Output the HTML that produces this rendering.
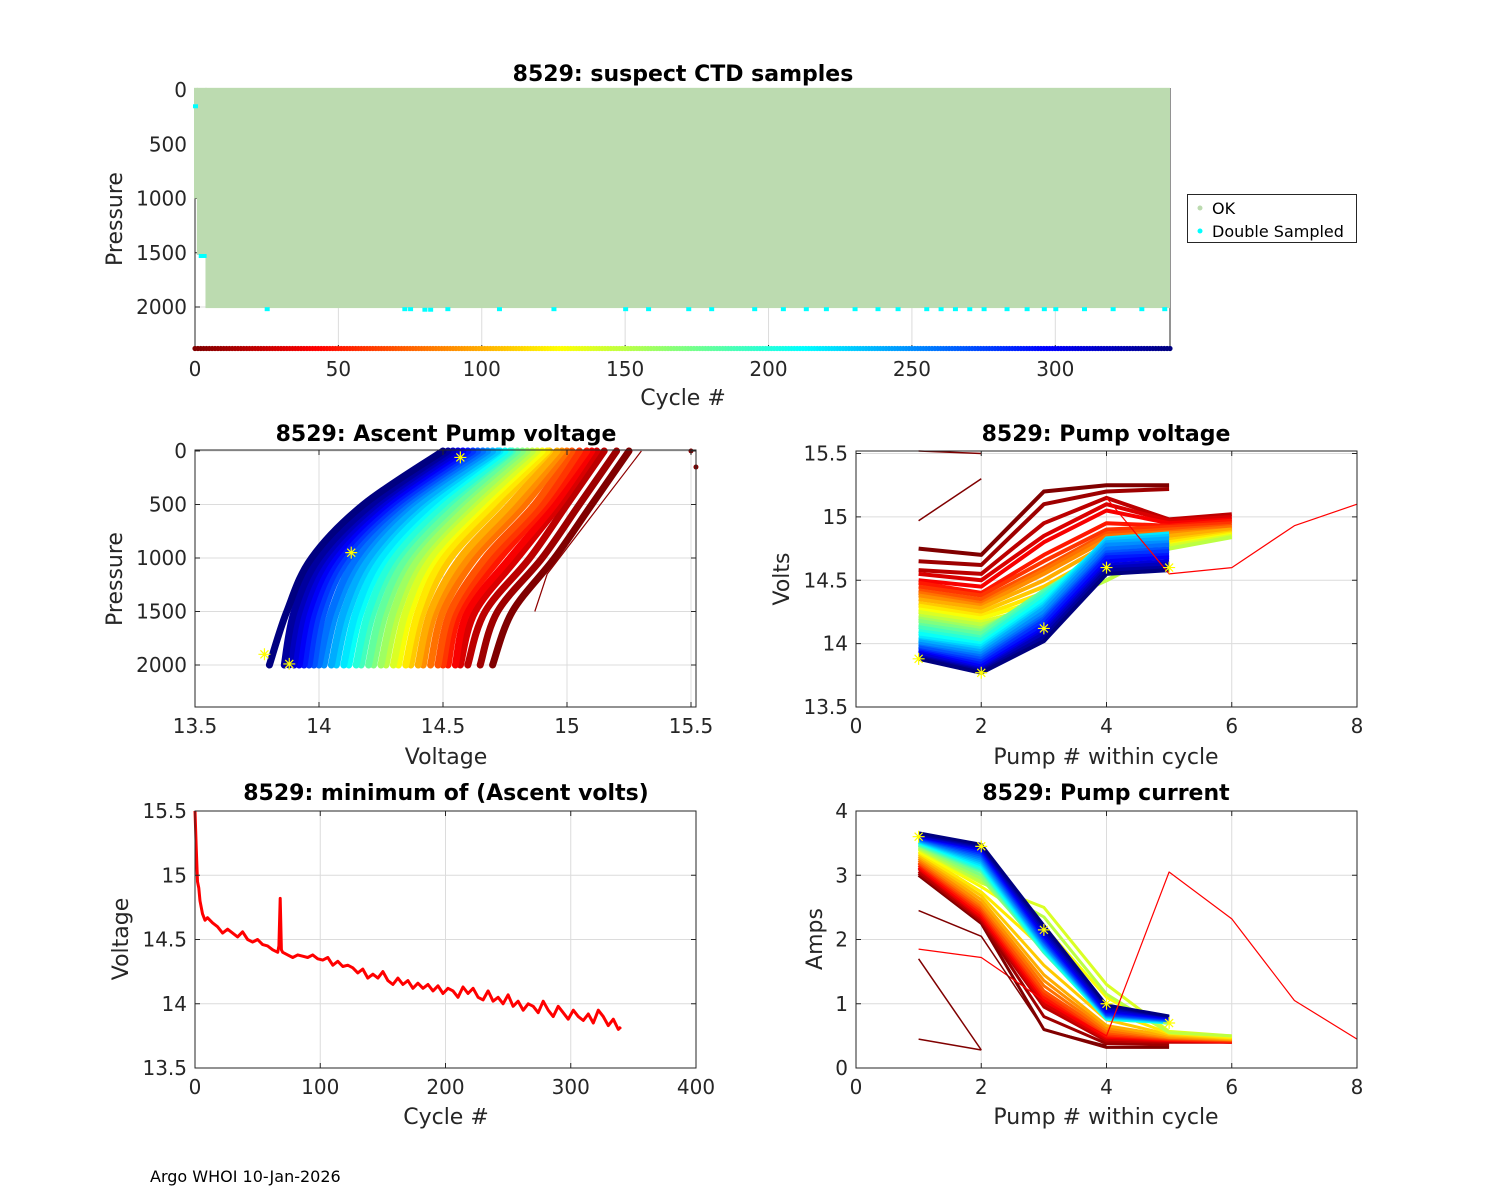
<!DOCTYPE html>
<html><head><meta charset="utf-8">
<style>
body{margin:0;background:#fff;}
svg{display:block;font-family:"DejaVu Sans","Liberation Sans",sans-serif;}
.tk{font-size:20px;fill:#262626;}
.lab{font-size:22px;fill:#262626;}
.ttl{font-size:22px;font-weight:bold;fill:#000;}
</style></head>
<body>
<svg id="fig" width="1500" height="1200" viewBox="0 0 1500 1200">
<rect x="0" y="0" width="1500" height="1200" fill="#fff"/>
<text x="150" y="1182" font-size="16" fill="#000">Argo WHOI 10-Jan-2026</text>
</svg>
<script>
// ---------- DATA ----------
const depthCycles = [0, 1, 4, 340];
const depthMax = [1000, 1520, 2010];
const dsCycles = [0, 2, 3, 25, 73, 75, 80, 82, 88, 106, 125, 150, 158, 172, 180, 195, 205, 213, 220, 230, 238, 245, 255, 260, 265, 270, 275, 283, 290, 296, 300, 310, 320, 330, 338];
const dsPress  = [150, 1530, 1530, 2020, 2020, 2020, 2025, 2025, 2020, 2020, 2020, 2020, 2020, 2020, 2020, 2020, 2020, 2020, 2020, 2020, 2020, 2020, 2020, 2020, 2020, 2020, 2020, 2020, 2020, 2020, 2020, 2020, 2020, 2020, 2020];
const p1xTicks = [0, 50, 100, 150, 200, 250, 300];
const p1yTicks = [0, 500, 1000, 1500, 2000];

const keyCycles = [0,10,20,30,40,50,60,70,80,90,100,110,120,130,140,150,160,170,180,190,200,210,220,230,240,250,260,270,280,290,300,310,320,330,340];

const ascPress = [2000, 1500, 1000, 500, 0];
const ascVolts = [
[14.70,14.78,14.95,15.10,15.25],[14.65,14.72,14.90,15.05,15.20],[14.60,14.67,14.85,15.00,15.15],
[14.57,14.63,14.80,14.97,15.12],[14.55,14.60,14.77,14.95,15.10],[14.52,14.57,14.73,14.92,15.08],
[14.50,14.55,14.70,14.90,15.05],[14.48,14.53,14.67,14.87,15.02],[14.45,14.50,14.63,14.83,15.00],
[14.42,14.47,14.60,14.80,14.98],[14.40,14.45,14.57,14.77,14.96],[14.37,14.42,14.53,14.73,14.93],
[14.35,14.40,14.50,14.70,14.92],[14.32,14.37,14.47,14.67,14.90],[14.30,14.35,14.45,14.65,14.88],
[14.27,14.32,14.42,14.62,14.86],[14.25,14.30,14.40,14.60,14.84],[14.22,14.27,14.37,14.57,14.82],
[14.20,14.25,14.35,14.55,14.80],[14.17,14.22,14.32,14.52,14.78],[14.15,14.20,14.30,14.50,14.77],
[14.12,14.17,14.27,14.47,14.75],[14.10,14.15,14.25,14.45,14.73],[14.07,14.12,14.22,14.42,14.72],
[14.05,14.10,14.20,14.40,14.70],[14.02,14.07,14.17,14.37,14.68],[14.00,14.05,14.15,14.35,14.66],
[13.98,14.02,14.12,14.33,14.64],[13.96,14.00,14.10,14.31,14.62],[13.94,13.98,14.08,14.29,14.60],
[13.92,13.96,14.06,14.27,14.58],[13.90,13.94,14.04,14.25,14.56],[13.88,13.92,14.02,14.23,14.54],
[13.86,13.90,14.00,14.21,14.52],[13.80,13.87,13.97,14.18,14.50]];
const ascOutV = [14.87, 14.92, 15.30];
const ascOutP = [1500, 1150, 0];
const p2xTicks = [13.5, 14, 14.5, 15, 15.5];
const p2yTicks = [0, 500, 1000, 1500, 2000];

const pvVolts = [
[14.75,14.70,15.20,15.25,15.25],[14.65,14.62,15.10,15.20,15.22],[14.58,14.55,14.95,15.15,14.98,15.02],
[14.55,14.50,14.85,15.10,14.97,15.00],[14.50,14.45,14.80,15.05,14.95,14.98],[14.48,14.40,14.70,14.95,14.93,14.97],
[14.45,14.38,14.65,14.90,14.92,14.95],[14.42,14.35,14.60,14.87,14.90,14.93],[14.40,14.32,14.58,14.85,14.88,14.92],
[14.38,14.30,14.55,14.82,14.87,14.90],[14.35,14.28,14.50,14.78,14.85,14.90],[14.32,14.25,14.45,14.72,14.82,14.88],
[14.30,14.22,14.40,14.65,14.80,14.87],[14.27,14.20,14.35,14.60,14.78,14.86],[14.25,14.17,14.30,14.55,14.77,14.85],
[14.22,14.15,14.28,14.50,14.75,14.84],[14.20,14.12,14.35,14.68,14.80],[14.18,14.10,14.40,14.70,14.78],
[14.15,14.08,14.42,14.72,14.78],[14.13,14.05,14.40,14.75,14.80],[14.10,14.03,14.38,14.80,14.85],
[14.08,14.00,14.35,14.82,14.85],[14.05,13.98,14.32,14.83,14.87],[14.03,13.96,14.30,14.82,14.85],
[14.02,13.94,14.28,14.80,14.83],[14.00,13.92,14.25,14.78,14.80],[13.98,13.90,14.22,14.75,14.78],
[13.97,13.88,14.20,14.72,14.75],[13.95,13.86,14.18,14.70,14.73],[13.94,13.84,14.15,14.68,14.70],
[13.93,13.82,14.12,14.65,14.68],[13.92,13.80,14.10,14.62,14.65],[13.90,13.79,14.08,14.60,14.63],
[13.89,13.78,14.05,14.58,14.60],[13.88,13.77,14.02,14.55,14.58]];
const pvOutA = [null, null, null, 15.15, 14.55, 14.60, 14.93, 15.10];
const pvOutB = [14.97, 15.30];
const pvOutC = [15.52, 15.50];
const p3xTicks = [0, 2, 4, 6, 8];
const p3yTicks = [13.5, 14, 14.5, 15, 15.5];

const mvCycles = [0,1,2,3,4,6,8,10,14,18,22,26,30,34,38,42,46,50,54,58,62,66,67,68,69,70,74,78,82,86,90,94,98,102,106,110,114,118,122,126,130,134,138,142,146,150,154,158,162,166,170,174,178,182,186,190,194,198,202,206,210,214,218,222,226,230,234,238,242,246,250,254,258,262,266,270,274,278,282,286,290,294,298,302,306,310,314,318,322,326,330,334,338,340];
const mvVolts = [15.5,15.2,14.95,14.9,14.8,14.7,14.65,14.67,14.63,14.6,14.55,14.58,14.55,14.52,14.56,14.5,14.48,14.5,14.46,14.45,14.42,14.4,14.45,14.82,14.42,14.4,14.38,14.36,14.38,14.37,14.36,14.38,14.35,14.34,14.36,14.3,14.33,14.29,14.3,14.28,14.24,14.27,14.2,14.23,14.2,14.25,14.18,14.15,14.2,14.15,14.18,14.12,14.16,14.12,14.15,14.1,14.14,14.08,14.12,14.1,14.05,14.13,14.08,14.12,14.05,14.03,14.1,14.02,14.05,14.0,14.07,13.98,14.02,13.95,14.0,13.98,13.93,14.02,13.95,13.9,13.98,13.93,13.88,13.95,13.9,13.87,13.92,13.85,13.95,13.9,13.83,13.88,13.8,13.82];
const p4xTicks = [0, 100, 200, 300, 400];
const p4yTicks = [13.5, 14, 14.5, 15, 15.5];

const pcAmps = [
[3.00,2.25,0.60,0.32,0.32],[3.03,2.28,0.80,0.38,0.36],[3.06,2.30,0.95,0.42,0.40,0.40],
[3.10,2.33,1.00,0.45,0.42,0.40],[3.12,2.36,1.05,0.48,0.43,0.40],[3.15,2.40,1.10,0.50,0.44,0.41],
[3.18,2.44,1.15,0.52,0.45,0.42],[3.20,2.48,1.20,0.55,0.46,0.43],[3.23,2.52,1.28,0.58,0.47,0.44],
[3.26,2.56,1.36,0.62,0.48,0.44],[3.29,2.62,1.45,0.66,0.50,0.45],[3.32,2.68,1.60,0.75,0.52,0.46],
[3.35,2.74,1.85,0.90,0.54,0.47],[3.37,2.82,2.20,1.10,0.56,0.49],[3.40,2.88,2.50,1.30,0.57,0.50],
[3.42,2.90,2.35,1.15,0.55,0.50],[3.44,2.95,1.85,0.85,0.70],[3.46,3.00,1.80,0.80,0.70],
[3.47,3.05,1.80,0.78,0.70],[3.48,3.08,1.80,0.76,0.70],[3.50,3.10,1.82,0.76,0.70],
[3.51,3.13,1.84,0.77,0.71],[3.52,3.16,1.86,0.78,0.72],[3.53,3.19,1.88,0.79,0.72],
[3.54,3.22,1.90,0.80,0.73],[3.55,3.25,1.92,0.81,0.74],[3.56,3.28,1.95,0.82,0.74],
[3.57,3.31,1.97,0.83,0.75],[3.58,3.34,2.00,0.84,0.76],[3.59,3.37,2.03,0.86,0.77],
[3.60,3.40,2.06,0.88,0.78],[3.61,3.42,2.10,0.90,0.79],[3.63,3.44,2.14,0.93,0.80],
[3.64,3.46,2.18,0.96,0.80],[3.66,3.48,2.22,0.98,0.81]];
const pcOutA = [1.85, 1.72, 1.05, 0.50, 3.05, 2.32, 1.05, 0.45];
const pcOutB = [2.45, 2.05, 0.60, 0.35];
const pcOutC = [1.70, 0.28];
const pcOutD = [0.45, 0.28];
const p5xTicks = [0, 2, 4, 6, 8];
const p5yTicks = [0, 1, 2, 3, 4];

// ---------- DRAWING ----------
const NS = 'http://www.w3.org/2000/svg';
const svg = document.getElementById('fig');
function mk(tag, attrs, name, parent) {
  const el = document.createElementNS(NS, tag);
  for (const k in attrs) el.setAttribute(k, attrs[k]);
  
  
  (parent || svg).appendChild(el);
  return el;
}
function jet(c) {
  const t = 1 - c / 340;
  const f = v => Math.round(255 * Math.max(0, Math.min(1, v)));
  return `rgb(${f(1.5 - Math.abs(4*t-3))},${f(1.5 - Math.abs(4*t-2))},${f(1.5 - Math.abs(4*t-1))})`;
}
function lin(d0, d1, r0, r1) { return v => r0 + (v - d0) * (r1 - r0) / (d1 - d0); }

function axesFrame(g, box, xs, ys, xt, yt, xfmt, yfmt, grid, pre) {
  if (grid) {
    xt.forEach(v => mk('line', {x1: xs(v), x2: xs(v), y1: box.y0, y2: box.y1, stroke: '#dcdcdc', 'stroke-width': 1}, pre + '-x-grid', g));
    yt.forEach(v => mk('line', {x1: box.x0, x2: box.x1, y1: ys(v), y2: ys(v), stroke: '#dcdcdc', 'stroke-width': 1}, pre + '-y-grid', g));
  }
  xt.forEach(v => {
    const t = mk('text', {x: xs(v), y: box.y1 + 26, 'text-anchor': 'middle', class: 'tk'}, pre + '-x-tick-label', g);
    t.textContent = xfmt(v);
  });
  yt.forEach(v => {
    const t = mk('text', {x: box.x0 - 8, y: ys(v) + 7, 'text-anchor': 'end', class: 'tk'}, pre + '-y-tick-label', g);
    t.textContent = yfmt(v);
  });
}
function boxLines(g, box, xs, ys, xt, yt, pre) {
  mk('rect', {x: box.x0, y: box.y0, width: box.x1 - box.x0, height: box.y1 - box.y0, fill: 'none', stroke: '#262626', 'stroke-width': 1}, pre + '-axes-box', g);
  xt.forEach(v => {
    mk('line', {x1: xs(v), x2: xs(v), y1: box.y1, y2: box.y1 - 5, stroke: '#262626'}, pre + '-x-tick', g);
    mk('line', {x1: xs(v), x2: xs(v), y1: box.y0, y2: box.y0 + 5, stroke: '#262626'}, pre + '-x-tick', g);
  });
  yt.forEach(v => {
    mk('line', {x1: box.x0, x2: box.x0 + 5, y1: ys(v), y2: ys(v), stroke: '#262626'}, pre + '-y-tick', g);
    mk('line', {x1: box.x1, x2: box.x1 - 5, y1: ys(v), y2: ys(v), stroke: '#262626'}, pre + '-y-tick', g);
  });
}
function label(g, x, y, txt, cls, name, rot) {
  const t = mk('text', {x: x, y: y, 'text-anchor': 'middle', class: cls}, name, g);
  if (rot) t.setAttribute('transform', `rotate(-90 ${x} ${y})`);
  t.textContent = txt;
}
function star(g, x, y, name) {
  const s = 6;
  const d = `M${x-s},${y}L${x+s},${y}M${x},${y-s}L${x},${y+s}M${x-4},${y-4}L${x+4},${y+4}M${x-4},${y+4}L${x+4},${y-4}`;
  mk('path', {d: d, stroke: '#ffff00', 'stroke-width': 1.2, fill: 'none'}, name, g);
}
function poly(g, pts, color, w, name) {
  mk('polyline', {points: pts.map(p => p[0].toFixed(1) + ',' + p[1].toFixed(1)).join(' '), fill: 'none', stroke: color, 'stroke-width': w, 'stroke-linejoin': 'round'}, name, g);
}
function smooth(g, pts, color, w, name) {
  let d = `M${pts[0][0].toFixed(1)},${pts[0][1].toFixed(1)}`;
  for (let i = 0; i < pts.length - 1; i++) {
    const p0 = pts[Math.max(0, i - 1)], p1 = pts[i], p2 = pts[i + 1], p3 = pts[Math.min(pts.length - 1, i + 2)];
    const c1 = [p1[0] + (p2[0] - p0[0]) / 6, p1[1] + (p2[1] - p0[1]) / 6];
    const c2 = [p2[0] - (p3[0] - p1[0]) / 6, p2[1] - (p3[1] - p1[1]) / 6];
    d += `C${c1[0].toFixed(1)},${c1[1].toFixed(1)} ${c2[0].toFixed(1)},${c2[1].toFixed(1)} ${p2[0].toFixed(1)},${p2[1].toFixed(1)}`;
  }
  mk('path', {d: d, fill: 'none', stroke: color, 'stroke-width': w, 'stroke-linecap': 'round'}, name, g);
}
const fmt = v => String(v);

// ===== Panel 1 =====
(function () {
  const g = mk('g', {}, 'suspect-ctd-panel');
  const box = {x0: 195, x1: 1170, y0: 88, y1: 350};
  const xs = lin(0, 340, 195, 1170), ys = lin(0, 2000, 90, 307);
  axesFrame(g, box, xs, ys, p1xTicks, p1yTicks, fmt, fmt, true, 'p1');
  mk('line', {x1: box.x0, x2: box.x0, y1: box.y0, y2: box.y1, stroke: '#262626'}, 'p1-y-axis-line', g);
  mk('line', {x1: box.x1, x2: box.x1, y1: box.y0, y2: box.y1, stroke: '#262626'}, 'p1-right-axis-line', g);
  mk('line', {x1: box.x0, x2: box.x1, y1: box.y1, y2: box.y1, stroke: '#262626'}, 'p1-x-axis-line', g);
  p1yTicks.forEach(v => mk('line', {x1: box.x0, x2: box.x0 + 5, y1: ys(v), y2: ys(v), stroke: '#262626'}, 'p1-y-tick', g));
  p1xTicks.forEach(v => mk('line', {x1: xs(v), x2: xs(v), y1: box.y1, y2: box.y1 - 5, stroke: '#262626'}, 'p1-x-tick', g));
  for (let i = 0; i < depthMax.length; i++) {
    mk('rect', {x: xs(depthCycles[i]) - 1, y: ys(-20), width: xs(depthCycles[i + 1]) - xs(depthCycles[i]) + 1, height: ys(depthMax[i]) - ys(-20), fill: '#bcdbb0'}, 'ok-samples-region', g);
  }
  dsCycles.forEach((c, i) => mk('rect', {x: xs(c) - 2, y: ys(dsPress[i]) - 2, width: 5, height: 4, fill: '#00ffff'}, 'double-sampled-point', g));
  for (let c = 0; c <= 340; c++) mk('circle', {cx: xs(c), cy: 348.5, r: 2.6, fill: jet(c)}, 'cycle-color-marker', g);
  label(g, 683, 81, '8529: suspect CTD samples', 'ttl', 'p1-title');
  label(g, 683, 405, 'Cycle #', 'lab', 'p1-x-axis-title');
  label(g, 122, 219, 'Pressure', 'lab', 'p1-y-axis-title', true);
  const lg = mk('g', {}, 'legend', g);
  mk('rect', {x: 1187.5, y: 194.5, width: 169, height: 48, fill: '#fff', stroke: '#262626'}, 'legend-box', lg);
  mk('circle', {cx: 1200, cy: 208, r: 2.5, fill: '#bcdbb0'}, 'legend-ok-marker', lg);
  mk('circle', {cx: 1200, cy: 231, r: 2.5, fill: '#00ffff'}, 'legend-double-marker', lg);
  const t1 = mk('text', {x: 1212, y: 214, 'font-size': 16, fill: '#000'}, 'legend-entry-ok', lg); t1.textContent = 'OK';
  const t2 = mk('text', {x: 1212, y: 237, 'font-size': 16, fill: '#000'}, 'legend-entry-double-sampled', lg); t2.textContent = 'Double Sampled';
})();

// ===== Panel 2 =====
(function () {
  const g = mk('g', {}, 'ascent-pump-voltage-panel');
  const box = {x0: 195, x1: 696, y0: 450, y1: 707};
  const xs = lin(13.5, 15.5, 195, 691), ys = lin(0, 2000, 451, 665);
  axesFrame(g, box, xs, ys, p2xTicks, p2yTicks, fmt, fmt, true, 'p2');
  keyCycles.forEach((c, i) => {
    smooth(g, ascVolts[i].map((v, j) => [xs(v), ys(ascPress[j])]), jet(c), 7, 'ascent-profile-line');
  });
  poly(g, ascOutV.map((v, j) => [xs(v), ys(ascOutP[j])]), jet(5), 1.2, 'ascent-outlier-line');
  mk('circle', {cx: xs(15.5), cy: ys(0), r: 2.5, fill: jet(0)}, 'ascent-outlier-point', g);
  mk('circle', {cx: xs(15.52), cy: ys(150), r: 2.5, fill: jet(0)}, 'ascent-outlier-point', g);
  star(g, xs(13.78), ys(1900), 'ascent-star'); star(g, xs(13.88), ys(1990), 'ascent-star');
  star(g, xs(14.57), ys(60), 'ascent-star'); star(g, xs(14.13), ys(950), 'ascent-star');
  boxLines(g, box, xs, ys, p2xTicks, p2yTicks, 'p2');
  label(g, 446, 441, '8529: Ascent Pump voltage', 'ttl', 'p2-title');
  label(g, 446, 764, 'Voltage', 'lab', 'p2-x-axis-title');
  label(g, 122, 579, 'Pressure', 'lab', 'p2-y-axis-title', true);
})();

// ===== Panel 3 =====
(function () {
  const g = mk('g', {}, 'pump-voltage-panel');
  const box = {x0: 856, x1: 1357, y0: 451, y1: 707};
  const xs = lin(0, 8, 856, 1357), ys = lin(13.5, 15.5, 707, 453.5);
  axesFrame(g, box, xs, ys, p3xTicks, p3yTicks, fmt, fmt, true, 'p3');
  keyCycles.forEach((c, i) => poly(g, pvVolts[i].map((v, j) => [xs(j + 1), ys(v)]), jet(c), 4, 'pump-voltage-line'));
  poly(g, pvOutA.map((v, j) => v == null ? null : [xs(j + 1), ys(v)]).filter(p => p), '#ff0000', 1.2, 'pump-voltage-outlier');
  poly(g, pvOutB.map((v, j) => [xs(j + 1), ys(v)]), jet(0), 1.5, 'pump-voltage-outlier');
  poly(g, pvOutC.map((v, j) => [xs(j + 1), ys(v)]), jet(0), 1.5, 'pump-voltage-outlier');
  star(g, xs(1), ys(13.88), 'pump-voltage-star'); star(g, xs(2), ys(13.77), 'pump-voltage-star');
  star(g, xs(3), ys(14.12), 'pump-voltage-star'); star(g, xs(4), ys(14.6), 'pump-voltage-star'); star(g, xs(5), ys(14.6), 'pump-voltage-star');
  boxLines(g, box, xs, ys, p3xTicks, p3yTicks, 'p3');
  label(g, 1106, 441, '8529: Pump voltage', 'ttl', 'p3-title');
  label(g, 1106, 764, 'Pump # within cycle', 'lab', 'p3-x-axis-title');
  label(g, 789, 579, 'Volts', 'lab', 'p3-y-axis-title', true);
})();

// ===== Panel 4 =====
(function () {
  const g = mk('g', {}, 'min-ascent-volts-panel');
  const box = {x0: 195, x1: 696, y0: 811, y1: 1068};
  const xs = lin(0, 400, 195, 696), ys = lin(13.5, 15.5, 1068, 811);
  axesFrame(g, box, xs, ys, p4xTicks, p4yTicks, fmt, fmt, true, 'p4');
  poly(g, mvCycles.map((c, i) => [xs(c), ys(mvVolts[i])]), '#ff0000', 3, 'min-volts-line');
  boxLines(g, box, xs, ys, p4xTicks, p4yTicks, 'p4');
  label(g, 446, 800, '8529: minimum of (Ascent volts)', 'ttl', 'p4-title');
  label(g, 446, 1124, 'Cycle #', 'lab', 'p4-x-axis-title');
  label(g, 128, 939, 'Voltage', 'lab', 'p4-y-axis-title', true);
})();

// ===== Panel 5 =====
(function () {
  const g = mk('g', {}, 'pump-current-panel');
  const box = {x0: 856, x1: 1357, y0: 811, y1: 1068};
  const xs = lin(0, 8, 856, 1357), ys = lin(0, 4, 1068, 811);
  axesFrame(g, box, xs, ys, p5xTicks, p5yTicks, fmt, fmt, true, 'p5');
  keyCycles.forEach((c, i) => poly(g, pcAmps[i].map((v, j) => [xs(j + 1), ys(v)]), jet(c), 3, 'pump-current-line'));
  poly(g, pcOutA.map((v, j) => [xs(j + 1), ys(v)]), '#ff0000', 1.2, 'pump-current-outlier');
  poly(g, pcOutB.map((v, j) => [xs(j + 1), ys(v)]), jet(0), 1.5, 'pump-current-outlier');
  poly(g, pcOutC.map((v, j) => [xs(j + 1), ys(v)]), jet(0), 1.5, 'pump-current-outlier');
  poly(g, pcOutD.map((v, j) => [xs(j + 1), ys(v)]), jet(0), 1.5, 'pump-current-outlier');
  star(g, xs(1), ys(3.6), 'pump-current-star'); star(g, xs(2), ys(3.45), 'pump-current-star');
  star(g, xs(3), ys(2.15), 'pump-current-star'); star(g, xs(4), ys(1.0), 'pump-current-star'); star(g, xs(5), ys(0.7), 'pump-current-star');
  boxLines(g, box, xs, ys, p5xTicks, p5yTicks, 'p5');
  label(g, 1106, 800, '8529: Pump current', 'ttl', 'p5-title');
  label(g, 1106, 1124, 'Pump # within cycle', 'lab', 'p5-x-axis-title');
  label(g, 822, 939, 'Amps', 'lab', 'p5-y-axis-title', true);
})();
</script>
</body></html>
